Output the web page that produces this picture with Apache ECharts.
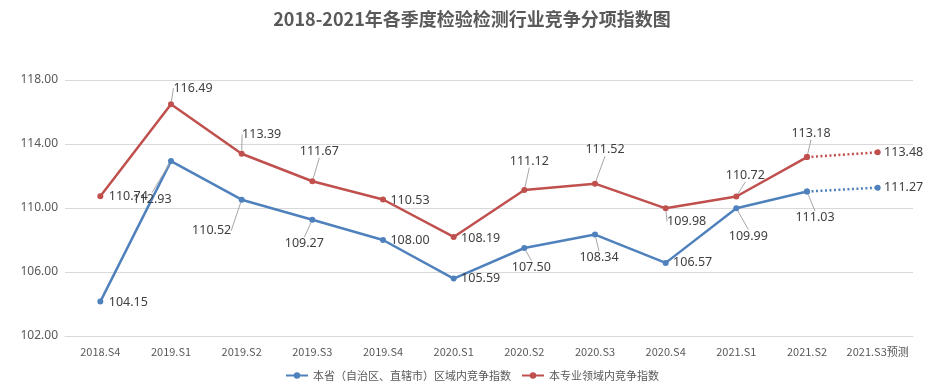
<!DOCTYPE html>
<html><head><meta charset="utf-8">
<script src="https://cdn.jsdelivr.net/npm/echarts@6/dist/echarts.min.js"></script>
<style>html,body{margin:0;padding:0;background:#fff}#c{width:944px;height:392px}</style>
</head><body><div id="c"></div>
<script>
const titleText = '2018-2021年各季度检验检测行业竞争分项指数图';
const categories = ['2018.S4','2019.S1','2019.S2','2019.S3','2019.S4','2020.S1','2020.S2','2020.S3','2020.S4','2021.S1','2021.S2','2021.S3预测'];
const seriesNames = ['本省（自治区、直辖市）区域内竞争指数','本专业领域内竞争指数'];
const provinceIndex = [104.15,112.93,110.52,109.27,108.00,105.59,107.50,108.34,106.57,109.99,111.03,111.27];
const fieldIndex = [110.74,116.49,113.39,111.67,110.53,108.19,111.12,111.52,109.98,110.72,113.18,113.48];
const forecastFrom = 10; // index of last actual value
const yTicks = [102,106,110,114,118];

// label offsets (dx, dy) from the point, and whether a leader line is drawn
const provOffsets = [[28,1,0],[-19,38,1],[-30,31,1],[-8,24,1],[27,0,0],[27,0,0],[7,19,1],[4,23,1],[27,0,0],[12,28,1],[8,26,1],[26,0,0]];
const fieldOffsets = [[28,0,0],[22,-16,1],[20,-19,1],[7,-30,1],[27,1,0],[27,1,0],[5,-29,1],[10,-34,1],[21,13,1],[9,-21,1],[4,-24,1],[26,0,0]];

const BLUE = '#4F81BD', RED = '#C0504D';

function solidData(vals){
  return vals.map((v,i)=> i<=forecastFrom ? v : null);
}
function dottedData(vals){
  return vals.map((v,i)=> i>=forecastFrom ? v : null);
}
function withLabels(data, offsets, onlyIdx){
  return data.map((v,i)=>{
    if (v===null) return null;
    const show = onlyIdx ? onlyIdx(i) : true;
    return {value:v, label:{show:show}, labelLine:{show: show && !!offsets[i][2]}};
  });
}

const labelStyle = {
  show:true, position:'inside', color:'#404040', fontSize:12.5,
  fontFamily:'Noto Sans', formatter:p=>Number(p.value).toFixed(2)
};
const labelLineStyle = {show:true, lineStyle:{color:'#a6a6a6', width:1}};

function makeLayout(offsets){
  return function(p){
    const o = offsets[p.dataIndex];
    return {dx:o[0], dy:o[1]};
  };
}

const chart = echarts.init(document.getElementById('c'), null, {renderer:'canvas'});
chart.setOption({
  backgroundColor:'#fff',
  animation:false,
  title:{text:titleText, left:'center', top:5,
    textStyle:{fontSize:18, fontWeight:'bold', color:'#595959', fontFamily:'Noto Sans CJK SC'}},
  legend:{bottom:6, left:'center', itemWidth:22, itemHeight:8, itemGap:10,
    data:seriesNames,
    textStyle:{fontSize:11, color:'#595959', fontFamily:'Noto Sans CJK SC'}},
  grid:{left:65, right:31, top:80, bottom:56},
  xAxis:{type:'category', data:categories, boundaryGap:true,
    axisLine:{show:true, lineStyle:{color:'#d9d9d9'}}, axisTick:{show:false},
    axisLabel:{color:'#595959', fontSize:11, fontFamily:'Noto Sans CJK SC', margin:10, interval:0}},
  yAxis:{type:'value', min:yTicks[0], max:yTicks[yTicks.length-1], interval:4,
    axisLine:{show:false}, axisTick:{show:false},
    splitLine:{lineStyle:{color:'#d9d9d9'}},
    axisLabel:{color:'#595959', fontSize:12, fontFamily:'Noto Sans', margin:7, formatter:v=>v.toFixed(2)}},
  series:[
    {name:seriesNames[0], type:'line', data:withLabels(solidData(provinceIndex), provOffsets),
      symbol:'circle', symbolSize:6, itemStyle:{color:BLUE}, lineStyle:{color:BLUE, width:2.5},
      label:labelStyle, labelLine:labelLineStyle, labelLayout:makeLayout(provOffsets), z:3},
    {name:seriesNames[1], type:'line', data:withLabels(solidData(fieldIndex), fieldOffsets),
      symbol:'circle', symbolSize:6, itemStyle:{color:RED}, lineStyle:{color:RED, width:2.5},
      label:labelStyle, labelLine:labelLineStyle, labelLayout:makeLayout(fieldOffsets), z:3},
    {name:seriesNames[0]+'预测', type:'line', data:withLabels(dottedData(provinceIndex), provOffsets, i=>i>forecastFrom),
      symbol:'circle', symbolSize:6, itemStyle:{color:BLUE}, lineStyle:{color:BLUE, width:2.5, type:[2,2.5]},
      label:labelStyle, labelLine:labelLineStyle, labelLayout:makeLayout(provOffsets), z:2},
    {name:seriesNames[1]+'预测', type:'line', data:withLabels(dottedData(fieldIndex), fieldOffsets, i=>i>forecastFrom),
      symbol:'circle', symbolSize:6, itemStyle:{color:RED}, lineStyle:{color:RED, width:2.5, type:[2,2.5]},
      label:labelStyle, labelLine:labelLineStyle, labelLayout:makeLayout(fieldOffsets), z:2}
  ]
});
</script></body></html>
